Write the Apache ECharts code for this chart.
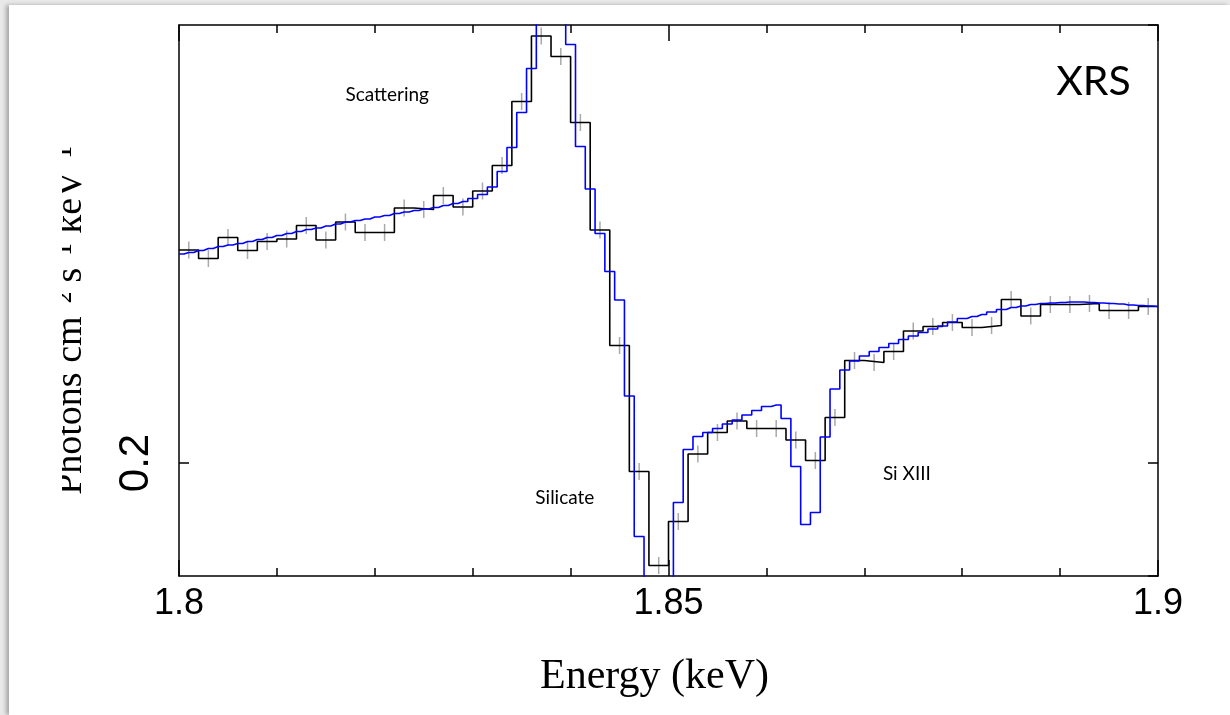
<!DOCTYPE html>
<html lang="en">
<head>
  <meta charset="UTF-8">
  <script src="https://cdn.jsdelivr.net/npm/echarts/dist/echarts.min.js"></script>
  <style>
    html, body {
      margin: 0;
      padding: 0;
      width: 1230px;
      height: 715px;
      overflow: hidden;
      background-color: #e9e9e9;
    }
    /* white sheet the figure sits on */
    #sheet {
      position: absolute;
      left: 9px;
      top: 5px;
      right: 0;
      bottom: 0;
      background-color: #fff;
      box-shadow: -3px 0 4px rgba(0,0,0,0.28);
    }
    #chart {
      position: absolute;
      left: 0;
      top: 0;
      width: 1230px;
      height: 715px;
    }
  </style>
</head>
<body>
  <div id="sheet"></div>
  <div id="chart"></div>
  <script>
    // observed spectrum, 0.002 keV bins starting at 1.8 keV
    const dataLo = 1.8;
    const dataBin = 0.002;
    const dataFlux = [
      0.2426, 0.2409, 0.2451, 0.2425, 0.2443, 0.2448, 0.2475, 0.2446, 0.2482, 0.2461,
      0.2461, 0.2510, 0.2507, 0.2535, 0.2512, 0.2544, 0.2595, 0.2723, 0.2854, 0.2813,
      0.2681, 0.2466, 0.2235, 0.1983, 0.1795, 0.1883, 0.2018, 0.2061, 0.2084, 0.2069,
      0.2069, 0.2046, 0.2005, 0.2091, 0.2205, 0.2201, 0.2223, 0.2264, 0.2273, 0.2281,
      0.2271, 0.2275, 0.2327, 0.2294, 0.2317, 0.2317, 0.2319, 0.2305, 0.2305, 0.2313
    ];
    // half length of the error bars
    const dataErr = 0.0017;

    // model, sampled every 0.001 keV from 1.8 to 1.9
    const modelLo = 1.8;
    const modelStep = 0.001;
    const modelFlux = [
      0.2418, 0.2421, 0.2425, 0.2429, 0.2433, 0.2436, 0.2439, 0.2443, 0.2447, 0.2451,
      0.2455, 0.2459, 0.2463, 0.2467, 0.2470, 0.2474, 0.2478, 0.2482, 0.2485, 0.2488,
      0.2492, 0.2495, 0.2499, 0.2502, 0.2505, 0.2508, 0.2511, 0.2515, 0.2519, 0.2523,
      0.2529, 0.2537, 0.2552, 0.2583, 0.2631, 0.2701, 0.2789, 0.3000, 0.3100, 0.3020,
      0.2837, 0.2633, 0.2548, 0.2459, 0.2383, 0.2326, 0.2134, 0.1853, 0.1700, 0.1680,
      0.1720, 0.1921, 0.2027, 0.2053, 0.2061, 0.2069, 0.2078, 0.2086, 0.2096, 0.2105,
      0.2113, 0.2116, 0.2089, 0.1993, 0.1877, 0.1901, 0.2052, 0.2148, 0.2186, 0.2204,
      0.2214, 0.2223, 0.2231, 0.2239, 0.2247, 0.2254, 0.2261, 0.2268, 0.2274, 0.2282,
      0.2289, 0.2293, 0.2297, 0.2302, 0.2307, 0.2311, 0.2314, 0.2317, 0.2319, 0.2320,
      0.2321, 0.2322, 0.2322, 0.2321, 0.2320, 0.2319, 0.2318, 0.2316, 0.2315, 0.2314,
      0.2313
    ];

    // plot window
    const xMin = 1.8, xMax = 1.9;
    const yMin = 0.1774, yMax = 0.2876;

    // text annotations (left edge x, middle y, in data units)
    const noteText = ['Scattering', 'Silicate', 'Si XIII', 'XRS'];
    const noteX = [1.8170, 1.8364, 1.8719, 1.8896];
    const noteY = [0.2737, 0.1931, 0.1978, 0.2762];
    const noteSize = [19, 19, 19, 41];

    const chart = echarts.init(document.getElementById('chart'), null, { renderer: 'canvas' });

    const frameLine = { show: true, onZero: false, lineStyle: { color: '#000', width: 1.5 } };

    const makeX = (pos, labels) => ({
      type: 'value',
      position: pos,
      min: xMin,
      max: xMax,
      interval: 0.05,
      axisLine: frameLine,
      axisTick: { show: true, inside: true, length: 16, lineStyle: { color: '#000', width: 1.5 } },
      minorTick: { show: true, splitNumber: 5, length: 8, lineStyle: { color: '#000', width: 1.5 } },
      splitLine: { show: false },
      minorSplitLine: { show: false },
      axisLabel: {
        show: labels,
        color: '#000',
        fontFamily: 'Liberation Sans',
        fontSize: 36,
        margin: 10,
        formatter: v => String(+v.toFixed(2))
      }
    });

    const makeY = (pos, labels) => ({
      type: 'value',
      position: pos,
      min: yMin,
      max: yMax,
      splitNumber: 1,
      minInterval: 0.1,
      maxInterval: 0.1,
      axisLine: frameLine,
      axisTick: { show: true, inside: true, length: 10, lineStyle: { color: '#000', width: 1.5 } },
      splitLine: { show: false },
      axisLabel: {
        show: labels,
        rotate: 90,
        color: '#000',
        fontFamily: 'Liberation Sans',
        fontSize: 42,
        margin: 22,
        showMinLabel: false,
        showMaxLabel: false,
        formatter: v => (Math.abs(v - 0.2) < 1e-9 ? '0.2' : '')
      }
    });

    const xBottom = makeX('bottom', true);
    xBottom.name = 'Energy (keV)';
    xBottom.nameLocation = 'middle';
    xBottom.nameGap = 80;
    xBottom.nameTextStyle = {
      fontFamily: 'Liberation Serif', fontSize: 42, color: '#000', padding: [0, 28, 0, 0]
    };

    const yLeft = makeY('left', true);
    yLeft.name = 'Photons cm\u207B\u00B2 s\u207B\u00B9 keV\u207B\u00B9';
    yLeft.nameLocation = 'middle';
    yLeft.nameRotate = 90;
    yLeft.nameGap = 89;
    yLeft.nameTextStyle = {
      fontFamily: 'Liberation Serif', fontSize: 38, color: '#000', padding: [0, 40, 0, 0]
    };

    // histogram of the data: one point per bin edge
    const dataSteps = dataFlux.map((v, i) => [dataLo + dataBin * i, v]);
    dataSteps.push([dataLo + dataBin * dataFlux.length, dataFlux[dataFlux.length - 1]]);

    const option = {
      animation: false,
      backgroundColor: 'transparent',
      grid: { left: 179, right: 72, top: 25, bottom: 139, containLabel: false },
      xAxis: [xBottom, makeX('top', false)],
      yAxis: [yLeft, makeY('right', false)],
      series: [
        {
          name: 'errors',
          type: 'custom',
          xAxisIndex: 0,
          yAxisIndex: 0,
          clip: true,
          silent: true,
          z: 1,
          data: dataFlux.map((v, i) => [dataLo + dataBin * (i + 0.5), v, dataErr]),
          renderItem: (params, api) => {
            const x = api.value(0), y = api.value(1), e = api.value(2);
            const p1 = api.coord([x, y - e]);
            const p2 = api.coord([x, y + e]);
            return {
              type: 'line',
              shape: { x1: p1[0], y1: p1[1], x2: p2[0], y2: p2[1] },
              style: { stroke: '#a9a9a9', lineWidth: 1.5 }
            };
          }
        },
        {
          name: 'data',
          type: 'line',
          step: 'end',
          xAxisIndex: 0,
          yAxisIndex: 0,
          showSymbol: false,
          clip: true,
          z: 2,
          lineStyle: { color: '#000', width: 1.6 },
          data: dataSteps
        },
        {
          name: 'model',
          type: 'line',
          step: 'middle',
          xAxisIndex: 0,
          yAxisIndex: 0,
          showSymbol: false,
          clip: true,
          z: 3,
          lineStyle: { color: '#0000ff', width: 1.6 },
          data: modelFlux.map((v, j) => [modelLo + modelStep * j, v])
        }
      ]
    };
    chart.setOption(option);

    // place annotations through the axes, and the white strip that trims the y title
    const notes = noteText.map((t, i) => {
      const p = chart.convertToPixel({ xAxisIndex: 0, yAxisIndex: 0 }, [noteX[i], noteY[i]]);
      return {
        type: 'text',
        x: p[0],
        y: p[1],
        z: 50,
        style: {
          text: t,
          fill: '#000',
          font: noteSize[i] + 'px Lato',
          align: 'left',
          verticalAlign: 'middle'
        }
      };
    });
    notes.push({
      type: 'rect',
      z: 100,
      shape: { x: 9, y: 80, width: 53, height: 460 },
      style: { fill: '#fff' }
    });
    chart.setOption({ graphic: notes });
  </script>
</body>
</html>
